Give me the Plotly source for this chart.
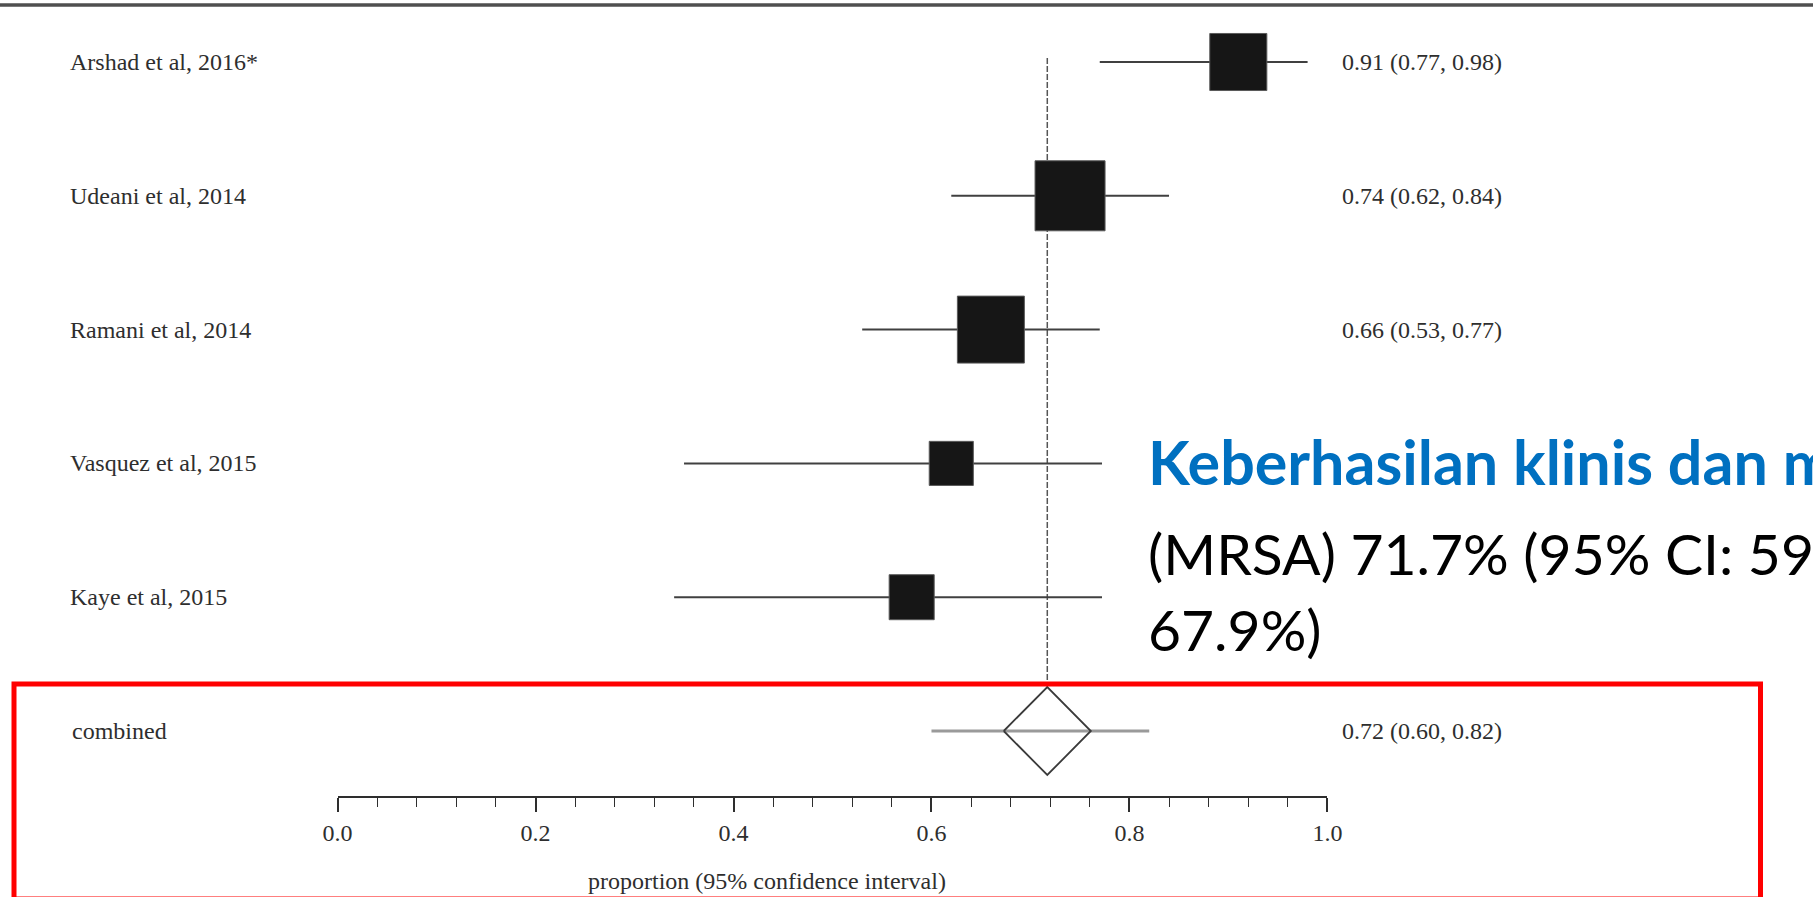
import math
import plotly.graph_objects as go

# ---- data -------------------------------------------------------------
studies = [
    "Arshad et al, 2016*",
    "Udeani et al, 2014",
    "Ramani et al, 2014",
    "Vasquez et al, 2015",
    "Kaye et al, 2015",
]
proportion = [0.91, 0.74, 0.66, 0.62, 0.58]
ci_lower = [0.77, 0.62, 0.53, 0.35, 0.34]
ci_upper = [0.98, 0.84, 0.77, 0.83, 0.79]
weights = [19.6, 29.5, 27.0, 11.7, 12.2]  # study weight, %

pooled_name = "combined"
pooled = 0.717
pooled_lower = 0.60
pooled_upper = 0.82
pooled_diamond = [0.673, 0.761]

axis_ticks = [0.0, 0.2, 0.4, 0.6, 0.8, 1.0]
axis_title = "proportion (95% confidence interval)"

headline = "Keberhasilan klinis dan m"
detail_lines = ["(MRSA) 71.7% (95% CI: 59", "67.9%)"]

# ---- layout constants (pixels) ---------------------------------------
W, H = 1813, 897
X0_PX, X1_PX = 337.6, 1327.4       # where 0.0 and 1.0 sit
ROW0_PX, ROW_STEP = 62.0, 133.8    # first row centre, row spacing
AXIS_PX = 797
PANEL = dict(left=1102, top=380, bottom=672)   # white panel of the statement
SERIF = "Liberation Serif, Times New Roman, serif"
SANS = "Lato, Noto Sans, sans-serif"
INK = "#2e2e2e"


def px_to_paper_y(px):
    return 1 - px / H


def px_to_paper_x(px):
    return px / W


def row_to_px(row):
    return ROW0_PX + ROW_STEP * row


n = len(studies)
pooled_row = n
diamond_half = 44 / ROW_STEP

fig = go.Figure()

# confidence interval whiskers of each study
cx, cy = [], []
for i in range(n):
    cx += [ci_lower[i], ci_upper[i], None]
    cy += [i, i, None]
fig.add_trace(go.Scatter(x=cx, y=cy, mode="lines",
                         line=dict(color="#404040", width=2),
                         hoverinfo="skip", showlegend=False))

# pooled interval
fig.add_trace(go.Scatter(x=[pooled_lower, pooled_upper], y=[pooled_row, pooled_row],
                         mode="lines", line=dict(color="#9a9a9a", width=3),
                         hoverinfo="skip", showlegend=False))

# study boxes, area proportional to weight
sizes = [128.9 * math.sqrt(w / 100) for w in weights]
fig.add_trace(go.Scatter(x=proportion, y=list(range(n)), mode="markers",
                         marker=dict(symbol="square", size=sizes, color="#161616",
                                     opacity=1,
                                     line=dict(color="#5a5a5a", width=1)),
                         hoverinfo="skip", showlegend=False))

# pooled diamond
fig.add_trace(go.Scatter(
    x=[pooled_diamond[0], pooled, pooled_diamond[1], pooled, pooled_diamond[0]],
    y=[pooled_row, pooled_row - diamond_half, pooled_row,
       pooled_row + diamond_half, pooled_row],
    mode="lines", line=dict(color="#3a3a3a", width=1.8),
    hoverinfo="skip", showlegend=False))

shapes = [
    # pooled estimate reference line
    dict(type="line", xref="x", yref="y", x0=pooled, x1=pooled,
         y0=-0.03, y1=pooled_row - diamond_half, layer="below",
         line=dict(color="#555555", width=1.5, dash="6px,2px")),
    # white panel behind the overlaid statement
    dict(type="rect", xref="paper", yref="paper",
         x0=px_to_paper_x(PANEL["left"]), x1=1.0,
         y0=px_to_paper_y(PANEL["bottom"]), y1=px_to_paper_y(PANEL["top"]),
         fillcolor="white", line=dict(width=0), layer="above"),
    # red highlight frame around the pooled result
    dict(type="rect", xref="paper", yref="paper",
         x0=px_to_paper_x(14), x1=px_to_paper_x(1760.5),
         y0=px_to_paper_y(899), y1=px_to_paper_y(684),
         fillcolor="rgba(0,0,0,0)", line=dict(color="#ff0000", width=5), layer="above"),
    # rule along the top edge
    dict(type="line", xref="paper", yref="paper", x0=0, x1=1,
         y0=px_to_paper_y(5), y1=px_to_paper_y(5),
         line=dict(color="#4f4f4f", width=3.5), layer="above"),
]

serif_font = dict(family=SERIF, size=24, color=INK)
annotations = []

# study names on the left
for i, name in enumerate(studies):
    annotations.append(dict(text=name, xref="paper", yref="y", x=px_to_paper_x(68), y=i,
                            xanchor="left", yanchor="middle", showarrow=False,
                            font=serif_font))
annotations.append(dict(text=pooled_name, xref="paper", yref="y", x=px_to_paper_x(70),
                        y=pooled_row, xanchor="left", yanchor="middle", showarrow=False,
                        font=serif_font))

# estimate (95% CI) column on the right; rows under the statement panel are covered
est_labels = [f"{p:.2f} ({lo:.2f}, {hi:.2f})" for p, lo, hi in zip(proportion, ci_lower, ci_upper)]
est_labels.append(f"{pooled:.2f} ({pooled_lower:.2f}, {pooled_upper:.2f})")
for row, text in enumerate(est_labels):
    if PANEL["top"] < row_to_px(row) < PANEL["bottom"]:
        continue
    annotations.append(dict(text=text, xref="paper", yref="y", x=px_to_paper_x(1340), y=row,
                            xanchor="left", yanchor="middle", showarrow=False,
                            font=serif_font))

annotations.append(dict(text=axis_title, xref="paper", yref="paper",
                        x=px_to_paper_x(767), y=px_to_paper_y(881),
                        xanchor="center", yanchor="middle", showarrow=False,
                        font=serif_font))

# overlaid statement
annotations.append(dict(text=f"<b>{headline}</b>", xref="paper", yref="paper",
                        x=px_to_paper_x(1146), y=px_to_paper_y(461),
                        xanchor="left", yanchor="middle", showarrow=False,
                        font=dict(family=SANS, size=61, color="#0070C0")))
for k, line in enumerate(detail_lines):
    annotations.append(dict(text=line, xref="paper", yref="paper",
                            x=px_to_paper_x(1146), y=px_to_paper_y(553 + 76 * k),
                            xanchor="left", yanchor="middle", showarrow=False,
                            font=dict(family=SANS, size=57, color="#000000")))

fig.update_layout(
    width=W, height=H,
    margin=dict(l=0, r=0, t=0, b=0, autoexpand=False),
    paper_bgcolor="white", plot_bgcolor="white",
    showlegend=False,
    shapes=shapes,
    annotations=annotations,
    xaxis=dict(
        domain=[X0_PX / W, X1_PX / W], range=[0, 1],
        anchor="free", position=px_to_paper_y(AXIS_PX),
        tickmode="array", tickvals=axis_ticks,
        ticktext=[f"{t:.1f}" for t in axis_ticks],
        ticks="outside", ticklen=14, tickwidth=1.6, tickcolor=INK,
        minor=dict(dtick=0.04, tick0=0, ticks="outside", ticklen=9,
                   tickwidth=1.4, tickcolor=INK),
        showline=True, linecolor=INK, linewidth=2,
        showgrid=False, zeroline=False, automargin=False,
        tickfont=dict(family=SERIF, size=24, color=INK),
    ),
    yaxis=dict(
        domain=[0, 1],
        range=[(H - ROW0_PX) / ROW_STEP, -ROW0_PX / ROW_STEP],
        visible=False, showgrid=False, zeroline=False,
    ),
)

fig.write_html("out.html")
